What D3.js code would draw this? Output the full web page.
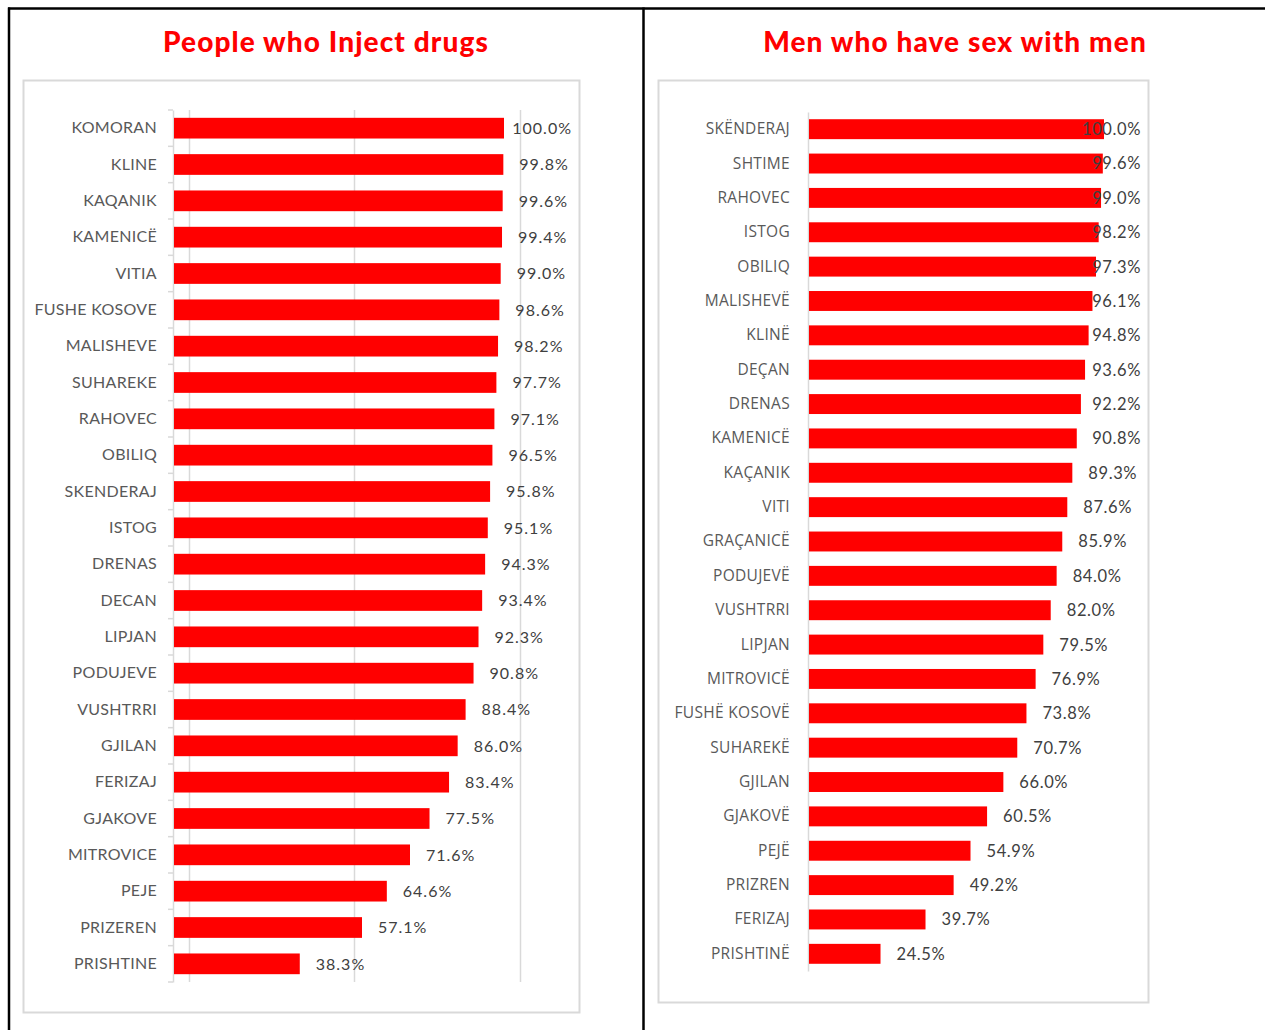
<!DOCTYPE html>
<html>
<head>
<meta charset="utf-8">
<script src="https://cdn.jsdelivr.net/npm/d3@7"></script>
<style>
  html, body { margin: 0; padding: 0; background: #fff; }
  svg { display: block; }
</style>
</head>
<body>
<svg id="chart" width="1265" height="1030"></svg>
<script>
// People who inject drugs, by municipality (%)
const pwidCategories = ["KOMORAN", "KLINE", "KAQANIK", "KAMENICË", "VITIA", "FUSHE KOSOVE",
  "MALISHEVE", "SUHAREKE", "RAHOVEC", "OBILIQ", "SKENDERAJ", "ISTOG", "DRENAS", "DECAN",
  "LIPJAN", "PODUJEVE", "VUSHTRRI", "GJILAN", "FERIZAJ", "GJAKOVE", "MITROVICE", "PEJE",
  "PRIZEREN", "PRISHTINE"];
const pwidValues = [100.0, 99.8, 99.6, 99.4, 99.0, 98.6, 98.2, 97.7, 97.1, 96.5, 95.8, 95.1,
  94.3, 93.4, 92.3, 90.8, 88.4, 86.0, 83.4, 77.5, 71.6, 64.6, 57.1, 38.3];
const pwidGridValues = [4.8, 54.8, 104.8];

// Men who have sex with men, by municipality (%)
const msmCategories = ["SKËNDERAJ", "SHTIME", "RAHOVEC", "ISTOG", "OBILIQ", "MALISHEVË",
  "KLINË", "DEÇAN", "DRENAS", "KAMENICË", "KAÇANIK", "VITI", "GRAÇANICË", "PODUJEVË",
  "VUSHTRRI", "LIPJAN", "MITROVICË", "FUSHË KOSOVË", "SUHAREKË", "GJILAN", "GJAKOVË",
  "PEJË", "PRIZREN", "FERIZAJ", "PRISHTINË"];
const msmValues = [100.0, 99.6, 99.0, 98.2, 97.3, 96.1, 94.8, 93.6, 92.2, 90.8, 89.3, 87.6,
  85.9, 84.0, 82.0, 79.5, 76.9, 73.8, 70.7, 66.0, 60.5, 54.9, 49.2, 39.7, 24.5];
const msmGridValues = [];

const svg = d3.select("#chart");
const RED = "#ff0000";

// page frame lines
const frame = svg.append("g").attr("stroke", "#000").attr("stroke-width", 2.5);
frame.append("line").attr("x1", 8).attr("x2", 1265).attr("y1", 8.5).attr("y2", 8.5);
frame.append("line").attr("x1", 9).attr("x2", 9).attr("y1", 7.5).attr("y2", 1030);
frame.append("line").attr("x1", 643.5).attr("x2", 643.5).attr("y1", 7.5).attr("y2", 1030);

function drawPanel(cfg) {
  const g = svg.append("g");

  // title
  g.append("text")
    .attr("x", cfg.titleX).attr("y", 52)
    .attr("text-anchor", "middle")
    .attr("fill", RED)
    .attr("font-family", "Lato, 'Noto Sans', sans-serif")
    .attr("font-weight", 900)
    .attr("font-size", 28)
    .attr("letter-spacing", 1.1)
    .text(cfg.title);

  // chart area box
  g.append("rect")
    .attr("x", cfg.box[0] + 0.5).attr("y", cfg.box[1] + 0.5)
    .attr("width", cfg.box[2] - cfg.box[0]).attr("height", cfg.box[3] - cfg.box[1])
    .attr("fill", "#fff").attr("stroke", "#d9d9d9").attr("stroke-width", 2);

  const x = d3.scaleLinear().domain([0, 100]).range([cfg.x0, cfg.x100]);
  const y = d3.scaleBand().domain(cfg.categories).range([cfg.yTop, cfg.yBottom]).paddingInner(cfg.pad).paddingOuter(cfg.pad / 2);
  const rows = cfg.categories.map((c, i) => ({ c, v: cfg.values[i] }));

  // vertical gridlines
  g.append("g").selectAll("line").data(cfg.grid).join("line")
    .attr("x1", d => Math.round(x(d)) + 0.5).attr("x2", d => Math.round(x(d)) + 0.5)
    .attr("y1", cfg.yTop).attr("y2", cfg.yBottom)
    .attr("stroke", "#d9d9d9").attr("stroke-width", 1.5);

  // category axis
  const axis = d3.axisLeft(y).tickSize(0).tickPadding(cfg.tickPad);
  const ax = g.append("g").attr("transform", `translate(${cfg.x0},0)`).call(axis);
  ax.select(".domain").attr("stroke", "#d9d9d9").attr("stroke-width", 1.5);
  ax.selectAll("text")
    .attr("fill", "#595959")
    .attr("font-family", cfg.labelFont)
    .attr("font-size", cfg.labelSize)
    .attr("letter-spacing", cfg.labelSpacing);

  if (cfg.boundaryTicks) {
    const bounds = d3.range(cfg.categories.length + 1).map(i => cfg.yTop + i * y.step());
    g.append("g").selectAll("line").data(bounds).join("line")
      .attr("x1", cfg.x0 - 5).attr("x2", cfg.x0)
      .attr("y1", d => d).attr("y2", d => d)
      .attr("stroke", "#d9d9d9").attr("stroke-width", 1.5);
  }

  // bars
  g.append("g").selectAll("rect").data(rows).join("rect")
    .attr("x", x(0) + 1)
    .attr("y", d => y(d.c))
    .attr("width", d => x(d.v) - x(0) - 1)
    .attr("height", y.bandwidth())
    .attr("fill", RED);

  // value labels, pulled back inside the plot when they would overrun it
  const lbl = g.append("g").selectAll("text").data(rows).join("text")
    .attr("y", d => y(d.c) + y.bandwidth() / 2)
    .attr("dy", "0.36em")
    .attr("fill", "#404040")
    .attr("font-family", cfg.valueFont)
    .attr("font-size", cfg.valueSize)
    .attr("letter-spacing", cfg.valueSpacing)
    .text(d => d.v.toFixed(1) + "%");
  lbl.each(function (d) {
    const t = d3.select(this);
    const w = this.getComputedTextLength();
    const start = x(d.v) + cfg.labelGap;
    if (start + w > cfg.labelLimit) {
      t.attr("x", cfg.labelLimit).attr("text-anchor", "end");
    } else {
      t.attr("x", start).attr("text-anchor", "start");
    }
  });
}

drawPanel({
  title: "People who Inject drugs",
  titleX: 326,
  box: [23, 80, 579, 1012],
  categories: pwidCategories,
  values: pwidValues,
  grid: pwidGridValues,
  x0: 173, x100: 504,
  yTop: 110, yBottom: 982,
  pad: 0.43,
  boundaryTicks: true,
  tickPad: 16,
  labelFont: "Lato, 'Noto Sans', sans-serif",
  labelSize: 16,
  labelSpacing: 0.3,
  valueFont: "Lato, 'Noto Sans', sans-serif",
  valueSize: 16,
  valueSpacing: 1,
  labelGap: 16,
  labelLimit: 572
});

drawPanel({
  title: "Men who have sex with men",
  titleX: 955,
  box: [658, 80, 1148, 1002],
  categories: msmCategories,
  values: msmValues,
  grid: msmGridValues,
  x0: 808, x100: 1104,
  yTop: 112, yBottom: 971,
  pad: 0.42,
  boundaryTicks: false,
  tickPad: 18,
  labelFont: "'Open Sans', Lato, sans-serif",
  labelSize: 15.5,
  labelSpacing: 0.3,
  valueFont: "Lato, 'Noto Sans', sans-serif",
  valueSize: 16.5,
  valueSpacing: 0.6,
  labelGap: 16,
  labelLimit: 1141
});
</script>
</body>
</html>
